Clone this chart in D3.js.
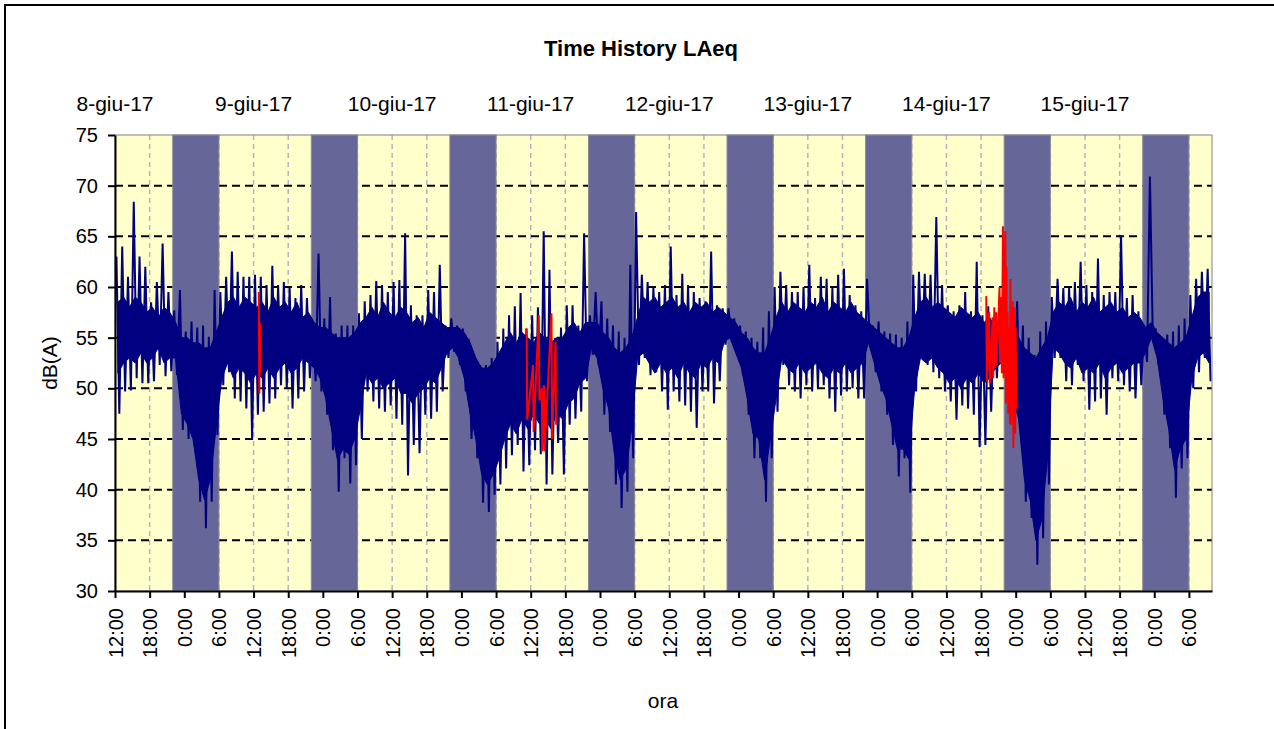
<!DOCTYPE html>
<html>
<head>
<meta charset="utf-8">
<script src="https://cdn.jsdelivr.net/npm/d3@7"></script>
<style>
    body { margin: 0; background: #fff; }
    text { font-family: Arial, 'Liberation Sans', sans-serif; fill: #000; }
</style>
</head>
<body>
<div id="chart"></div>
<script>
'use strict';

// first reading: 8 June 2017, 12:00 - values per hour
const startTime = new Date(2017, 5, 8, 12, 0);
const endHours = 190;

const dayLabels = ['8-giu-17', '9-giu-17', '10-giu-17', '11-giu-17', '12-giu-17', '13-giu-17', '14-giu-17', '15-giu-17'];
const yTicks = [30, 35, 40, 45, 50, 55, 60, 65, 70, 75];

// night period (22:00 - 6:00)
const nightStartHour = 22;
const nightEndHour = 6;

// hourly max of LAeq (peaks)
const hourMax = [
    63, 64, 61, 68.4, 63, 62, 58.5, 60.5, 64.3, 59.5,
    57.7, 59.7, 55.6, 56.6, 56, 56.2, 55.1, 59.7, 59.5, 61,
    63.5, 61.5, 61, 61, 61.2, 61, 60.2, 62.1, 60.2, 60.5,
    59.9, 58.9, 60.2, 58.9, 56.2, 63.3, 56.9, 59, 55.4, 56.2,
    56.2, 56.2, 57.4, 58.6, 59.2, 60.6, 60.2, 59.5, 60.5, 60.7,
    65.3, 58.2, 57.2, 57.2, 59.7, 59.5, 62.2, 56.2, 56.9, 56.2,
    55.9, 54.9, 53, 52.3, 52.3, 53, 54.6, 55.9, 57.2, 58.1,
    59.4, 55.9, 57.2, 58, 65.5, 61.7, 55, 56, 58.2, 58.2,
    56.2, 65.3, 57.2, 59.5, 58.6, 56.9, 56.2, 55.6, 55, 62.2,
    67.4, 61.2, 60.5, 60, 59.5, 60.2, 64, 59.2, 61.3, 60.2,
    59.5, 58.9, 58.6, 63.5, 58.2, 57.9, 57.9, 56.9, 56.2, 55.6,
    55, 54.6, 56, 57.6, 60, 61.5, 60.2, 59.5, 59.5, 60,
    62.2, 58.9, 61, 60.8, 60, 61.2, 61.8, 59.2, 58.2, 57.6,
    60.8, 56.2, 56.6, 55.6, 55.4, 55.3, 55, 56.6, 61.2, 61.5,
    61.3, 61.2, 66.9, 60.2, 58.2, 57.6, 58.2, 59.5, 57.6, 62.5,
    57.2, 58.1, 57, 58, 57, 56, 58.6, 56.2, 55, 53.3,
    55.6, 56.6, 59, 60.8, 59.9, 59.9, 60.5, 62.5, 60.2, 59.5,
    62.8, 59.2, 59.5, 59.5, 65.1, 58.9, 59.2, 57.6, 56.2, 70.9,
    55.9, 55, 55.3, 55.6, 56.2, 56.9, 59.2, 60.8, 61.5, 61.8
];

// hourly min of LAeq (dips)
const hourMin = [
    47.5, 49.7, 49.8, 51, 50.5, 50.5, 50.7, 52.3, 51.2, 51.7,
    51.3, 45.9, 45, 46.2, 38.8, 36.2, 38.8, 45.4, 50.3, 51.6,
    49, 48.7, 48, 44.9, 47.4, 47.7, 48.5, 49, 50.3, 50,
    48, 49, 49.7, 51, 50.7, 49.7, 47.4, 43.9, 39.8, 43.1,
    40.6, 42.4, 45, 49.7, 48.7, 48, 47.7, 48.3, 47, 46.4,
    41.4, 44.4, 43.6, 47.4, 47, 47.7, 49.7, 53, 53.6, 52.3,
    49.7, 45, 43.1, 38.7, 37.8, 39.5, 40.5, 42.1, 43.4, 44.4,
    41.8, 42.4, 43.9, 43.5, 40.5, 41.5, 44.6, 41.5, 46.4, 47,
    47.7, 50.7, 53.3, 52.3, 47.4, 45.7, 40.5, 38.2, 39.8, 43.1,
    52.3, 53, 51.3, 51.6, 49.7, 47.9, 49.7, 48.7, 48.3, 47.7,
    46.1, 49.7, 49.7, 48.5, 50.7, 54.3, 55, 53.3, 51.3, 47.4,
    43.1, 43.1, 38.8, 43.1, 47.7, 52.3, 50.3, 49.7, 49, 50.3,
    49.7, 50, 50.3, 49, 47.7, 49.3, 49.7, 50, 49, 49,
    54.7, 51.6, 49.7, 47.4, 44.4, 41.3, 43.1, 39.7, 49.7, 53,
    52.3, 51.6, 51, 49.7, 48.7, 46.9, 48.3, 48, 47.4, 44.2,
    44.4, 47.7, 51, 52.3, 50, 48, 46.4, 38.8, 37.2, 32.6,
    35.2, 40.5, 53, 53, 50.7, 50.3, 52.3, 50.7, 47.9, 48.7,
    49, 47.4, 51, 50.7, 50.3, 49.7, 49, 50.3, 52.6, 55,
    52.3, 47.4, 44.1, 39.2, 42.1, 43.1, 50, 51.6, 53, 50.7
];

// dense part of the readings in each hour (lower / upper edge)
const coreLow = [
    51.5, 52.5, 53, 52.5, 53.5, 52.5, 53, 54, 52.5, 53,
    53, 47.5, 46.5, 45, 41, 39, 41, 46, 51, 52.5,
    51, 52, 51.5, 50.5, 51.5, 51, 52, 51, 52, 52.5,
    51.5, 52, 53, 52.5, 52, 51, 49, 46, 43, 44,
    43.5, 45, 48, 51.5, 50.5, 51, 50, 50.5, 51, 49.5,
    49.5, 48.5, 49.5, 50, 51, 50.5, 52, 53.5, 54, 53,
    51, 47.5, 45, 41.5, 40.5, 41.5, 43, 45, 46.5, 45.5,
    47, 46, 47.5, 46.5, 47, 46, 47.5, 47, 48.5, 49,
    50.5, 51, 54, 53, 50, 48, 43.5, 41, 42, 46,
    53, 53.5, 52.5, 51.5, 52.5, 51.5, 52, 51, 52.5, 51.5,
    51, 52.5, 52, 53, 52.5, 54.5, 55, 53.5, 52, 49,
    45.5, 45, 41, 45, 49, 53, 52, 51.5, 52.5, 51.5,
    52, 52.5, 51.5, 51, 52, 51.5, 52.5, 51.5, 52, 52.5,
    54.5, 52.5, 50.5, 49, 46.5, 44, 44, 43, 50, 53,
    52.5, 53, 52, 51.5, 50.5, 51, 50, 51, 50.5, 51.5,
    50.5, 51, 52, 52.5, 51, 49, 47, 41, 39, 35,
    37, 43, 54, 53.5, 52.5, 52, 53, 51.5, 52, 51.5,
    52.5, 51, 52, 52.5, 51.5, 52, 52.5, 52.5, 53.5, 55,
    53, 49, 46, 42, 44, 45, 51, 53, 53.5, 52.5
];
const coreHigh = [
    58.5, 59, 58, 59, 58.5, 57.5, 58, 57, 58, 57.5,
    56.5, 55, 55, 54.5, 54.5, 54, 54, 55.5, 57, 58.5,
    59, 58, 59, 58.5, 58, 58.5, 57.5, 59, 58, 58.5,
    57.5, 58.5, 57, 57.5, 56.5, 56, 56, 55.5, 55, 55,
    55, 55.5, 56.5, 57, 58, 57, 58.5, 57.5, 57, 58,
    57.5, 56.5, 57, 56, 57.5, 57, 56.5, 56, 56, 56,
    55.5, 54.5, 53, 52, 52, 52.5, 53.5, 54.5, 55.5, 54.5,
    55.5, 55, 54.5, 55.5, 55, 54.5, 55, 55, 56, 56.5,
    55.5, 56.5, 56.5, 56.5, 55.5, 55, 54, 53.5, 54, 55,
    57, 59, 58.5, 59, 58, 58.5, 59, 58, 58.5, 57.5,
    58.5, 58, 58.5, 57.5, 58, 57.5, 57, 56.5, 55.5, 55,
    54, 53.5, 53.5, 55, 57, 58.5, 57.5, 58.5, 58, 57.5,
    58.5, 58, 59, 57.5, 58.5, 58, 57.5, 58.5, 57.5, 57,
    56.5, 56, 55.5, 55, 54.5, 54, 54, 55, 57, 58.5,
    59, 58, 58.5, 58, 57.5, 57, 58, 57.5, 57, 57.5,
    56.5, 57, 56, 56.5, 56, 55.5, 55, 54, 53.5, 53,
    54, 55, 57.5, 58.5, 58, 59, 57.5, 58.5, 58, 59,
    57.5, 58, 58.5, 57.5, 58, 57, 57.5, 57, 56, 56.5,
    55.5, 55, 54.5, 54, 54.5, 55, 57, 59, 59.5, 59.5
];

// readings flagged in red (hours from start, max, min)
const redHours = [24.9, 25.1, 71.3, 72.4, 73.4, 73.9, 74.3, 75.6, 76.3,
    150.9, 151.4, 152.0, 152.3, 152.6, 153.2, 153.5, 153.8, 154.2, 154.4, 154.6, 154.9, 155.1, 155.5, 155.8, 156.0];
const redMax = [59.5, 56.5, 55.9, 52.3, 57.2, 50, 50.3, 57.4, 54.6,
    59.1, 57.5, 57, 58, 57.5, 60, 59, 66, 65.5, 62, 57.6, 56, 60.8, 58.6, 58, 56];
const redMin = [49.5, 51.5, 46.9, 45.7, 48.8, 43.8, 43.8, 45, 46.4,
    50.7, 50.5, 51, 52, 52.3, 52.5, 51.5, 51, 48.5, 49, 47.5, 46.5, 46.4, 44.1, 45.5, 48];

const W = 1274, H = 729;
const margin = {top: 135, right: 62, bottom: 138, left: 115};
const width = W - margin.left - margin.right;
const height = H - margin.top - margin.bottom;

const atHour = h => d3.timeMinute.offset(startTime, Math.round(h * 60));

const svg = d3.select('#chart').append('svg')
    .attr('width', W)
    .attr('height', H);

// outer chart frame
svg.append('rect')
    .attr('x', 5).attr('y', 5)
    .attr('width', W + 20).attr('height', H + 20)
    .attr('fill', 'none')
    .attr('stroke', '#000')
    .attr('stroke-width', 2);

const g = svg.append('g')
    .attr('transform', 'translate(' + margin.left + ',' + margin.top + ')');

const x = d3.scaleTime()
    .domain([startTime, atHour(endHours)])
    .range([0, width]);
const y = d3.scaleLinear()
    .domain([30, 75])
    .range([height, 0]);

const sixHours = x.ticks(d3.timeHour.every(6));

// plot area
g.append('rect')
    .attr('width', width).attr('height', height)
    .attr('fill', '#FFFFCC');

// vertical grid
g.append('g').selectAll('line')
    .data(sixHours.slice(1))
    .join('line')
    .attr('x1', d => x(d)).attr('x2', d => x(d))
    .attr('y1', 0).attr('y2', height)
    .attr('stroke', '#B4B4C0')
    .attr('stroke-width', 1.5)
    .attr('stroke-dasharray', '5,4');

// horizontal grid
g.append('g').selectAll('line')
    .data(yTicks.slice(1, -1))
    .join('line')
    .attr('x1', 0).attr('x2', width)
    .attr('y1', d => y(d)).attr('y2', d => y(d))
    .attr('stroke', '#000')
    .attr('stroke-width', 2)
    .attr('stroke-dasharray', '8,5');

// night bands
const nights = d3.timeDay.range(d3.timeDay.floor(startTime), atHour(endHours))
    .map(d => [d3.timeHour.offset(d, nightStartHour), d3.timeHour.offset(d, 24 + nightEndHour)])
    .filter(n => n[0] < atHour(endHours));

g.append('g').selectAll('rect')
    .data(nights)
    .join('rect')
    .attr('x', d => x(d[0]))
    .attr('width', d => x(d[1]) - x(d[0]))
    .attr('y', 0)
    .attr('height', height)
    .attr('fill', '#666699')
    .attr('stroke', '#8A8A98')
    .attr('stroke-width', 1);

// dense band of readings
const core = coreLow.map((lo, i) => ({t: atHour(i + 0.5), lo: lo, hi: coreHigh[i]}));

g.append('path')
    .datum(core)
    .attr('fill', '#000080')
    .attr('stroke', '#000080')
    .attr('stroke-width', 1)
    .attr('d', d3.area()
        .x(d => x(d.t))
        .y0(d => y(d.lo))
        .y1(d => y(d.hi)));

// peaks and dips
const points = [];
hourMax.forEach((v, i) => {
    points.push({t: atHour(i + 0.25), v: v});
    points.push({t: atHour(i + 0.75), v: hourMin[i]});
});

const line = d3.line()
    .x(d => x(d.t))
    .y(d => y(d.v));

g.append('path')
    .datum(points)
    .attr('fill', 'none')
    .attr('stroke', '#000080')
    .attr('stroke-width', 2)
    .attr('d', line);

// flagged readings, grouped where they are close together
const redGroups = [];
redHours.forEach((h, i) => {
    const last = redGroups[redGroups.length - 1];
    const pts = [{t: atHour(h), v: redMax[i]}, {t: atHour(h + 0.1), v: redMin[i]}];
    if (last && h - last.h < 3) { last.pts.push(...pts); last.h = h; }
    else redGroups.push({h: h, pts: pts});
});

g.append('g').selectAll('path')
    .data(redGroups)
    .join('path')
    .attr('fill', 'none')
    .attr('stroke', '#FF0000')
    .attr('stroke-width', 2)
    .attr('d', d => line(d.pts));

// plot border
g.append('rect')
    .attr('width', width).attr('height', height)
    .attr('fill', 'none')
    .attr('stroke', '#808080')
    .attr('stroke-width', 1);

// axes
const yAxis = d3.axisLeft(y)
    .tickValues(yTicks)
    .tickSize(7)
    .tickSizeOuter(0)
    .tickPadding(10);

const xAxis = d3.axisBottom(x)
    .tickValues(sixHours)
    .tickSize(7)
    .tickSizeOuter(0)
    .tickFormat(d3.timeFormat('%-H:%M'));

const gy = g.append('g').call(yAxis);
gy.selectAll('text').style('font-size', '20px');

const gx = g.append('g')
    .attr('transform', 'translate(0,' + height + ')')
    .call(xAxis);
gx.selectAll('text')
    .style('font-size', '20px')
    .attr('transform', 'rotate(-90)')
    .attr('text-anchor', 'end')
    .attr('x', -17)
    .attr('y', 0)
    .attr('dy', '0.35em');

[gx, gy].forEach(a => {
    a.select('.domain').attr('stroke', '#000').attr('stroke-width', 2);
    a.selectAll('.tick line').attr('stroke', '#000').attr('stroke-width', 2);
});

// day labels above the plot, at noon
g.append('g').selectAll('text')
    .data(dayLabels)
    .join('text')
    .attr('x', (d, i) => x(atHour(i * 24)))
    .attr('y', -24)
    .attr('text-anchor', 'middle')
    .style('font-size', '21px')
    .text(d => d);

// titles
svg.append('text')
    .attr('x', 641).attr('y', 56)
    .attr('text-anchor', 'middle')
    .style('font-size', '22px')
    .style('font-weight', 'bold')
    .text('Time History LAeq');

svg.append('text')
    .attr('transform', 'translate(57,' + (margin.top + height / 2) + ') rotate(-90)')
    .attr('text-anchor', 'middle')
    .style('font-size', '21px')
    .text('dB(A)');

svg.append('text')
    .attr('x', 663).attr('y', 708)
    .attr('text-anchor', 'middle')
    .style('font-size', '21px')
    .text('ora');
</script>
</body>
</html>
